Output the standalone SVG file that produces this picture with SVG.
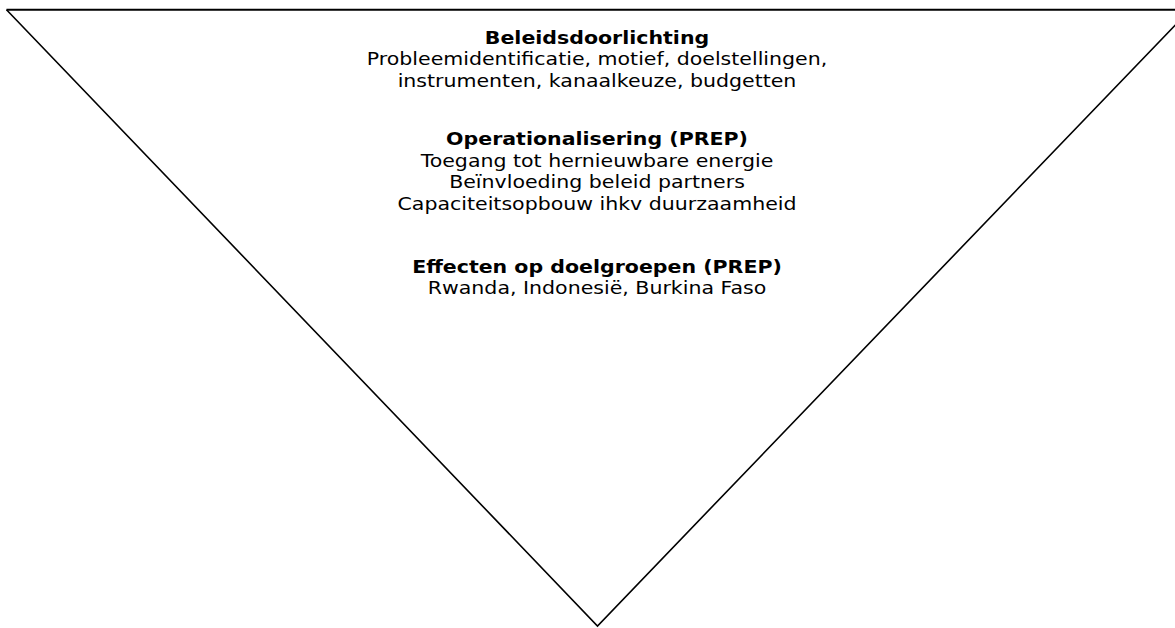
<svg xmlns="http://www.w3.org/2000/svg" width="1175" height="628" viewBox="0 0 1175 628">
<style>
text{font-family:"DejaVu Sans",Verdana,sans-serif;font-size:18px;fill:#000;text-anchor:middle}
.b{font-weight:bold}
</style>
<rect width="1175" height="628" fill="#fff"/>
<g id="triangle">
<line x1="6.5" y1="9.7" x2="1190" y2="9.7" stroke="#000" stroke-width="2"/>
<polyline points="6.5,9.7 597.5,626 1190,9.7" fill="none" stroke="#000" stroke-width="1.6"/>
</g>
<g id="beleidsdoorlichting" transform="translate(597,0) scale(1.14,1)">
<text x="0" y="44" class="b">Beleidsdoorlichting</text>
<text x="0" y="65.5">Probleemidentificatie, motief, doelstellingen,</text>
<text x="0" y="87">instrumenten, kanaalkeuze, budgetten</text>
</g>
<g id="operationalisering" transform="translate(597,0) scale(1.14,1)">
<text x="0" y="145.5" class="b">Operationalisering (PREP)</text>
<text x="0" y="167">Toegang tot hernieuwbare energie</text>
<text x="0" y="188.5">Beïnvloeding beleid partners</text>
<text x="0" y="210">Capaciteitsopbouw ihkv duurzaamheid</text>
</g>
<g id="effecten" transform="translate(597,0) scale(1.14,1)">
<text x="0" y="273" class="b">Effecten op doelgroepen (PREP)</text>
<text x="0" y="294.5">Rwanda, Indonesië, Burkina Faso</text>
</g>
</svg>
